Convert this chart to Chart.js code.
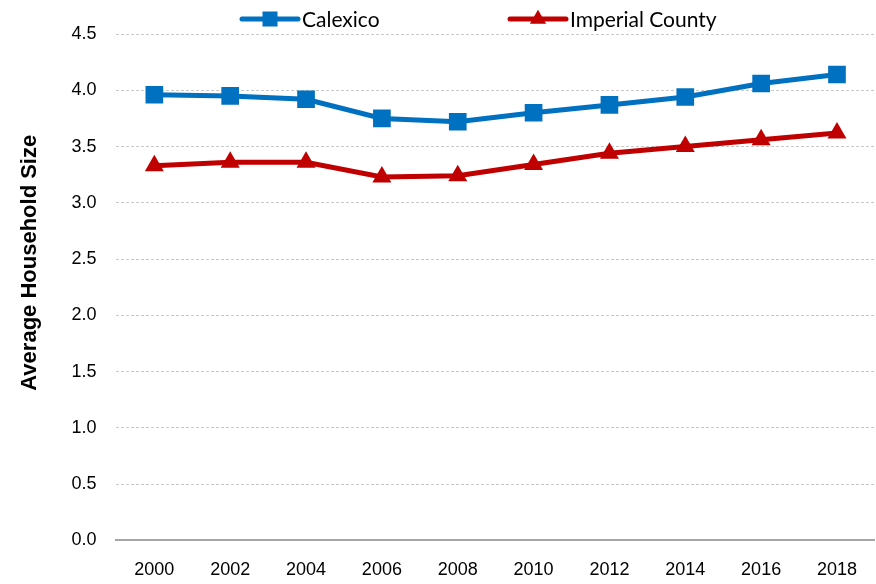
<!DOCTYPE html>
<html>
<head>
<meta charset="utf-8">
<script src="https://cdn.jsdelivr.net/npm/chart.js@4.4.1/dist/chart.umd.min.js"></script>
<style>
  html, body { margin: 0; padding: 0; background: #fff; overflow: hidden; }
  #wrap { width: 876px; height: 584px; position: relative; }
  canvas { display: block; }
</style>
</head>
<body>
<div id="wrap"><canvas id="myChart"></canvas></div>
<script>
var years = ['2000', '2002', '2004', '2006', '2008', '2010', '2012', '2014', '2016', '2018'];
var calexico = [3.96, 3.95, 3.92, 3.75, 3.72, 3.80, 3.87, 3.94, 4.06, 4.14];
var imperial = [3.33, 3.36, 3.36, 3.23, 3.24, 3.34, 3.44, 3.50, 3.56, 3.62];
var seriesNames = ['Calexico', 'Imperial County'];

var blue = '#0070C0';
var red = '#C00000';
var tickFont = { family: "'Liberation Sans', Arial, sans-serif", size: 18 };

// legend drawn by hand: line with the marker on it, like the original
var lineLegend = {
	id: 'lineLegend',
	afterDraw: function(chart){
		var ctx = chart.ctx;
		var starts = [242, 510];
		chart.data.datasets.forEach(function(ds, i){
			var x = starts[i], y = 19, len = 56;
			ctx.save();
			ctx.strokeStyle = ds.borderColor;
			ctx.lineWidth = 5;
			ctx.lineCap = 'round';
			ctx.beginPath();
			ctx.moveTo(x, y);
			ctx.lineTo(x + len, y);
			ctx.stroke();
			ctx.fillStyle = ds.borderColor;
			Chart.helpers.drawPoint(ctx, { pointStyle: ds.pointStyle, radius: ds.pointRadius * 0.85, borderWidth: 0 }, x + len / 2, y);
			ctx.fillStyle = '#000';
			ctx.font = "21px Lato, 'Open Sans', sans-serif";
			ctx.textBaseline = 'middle';
			ctx.fillText(ds.label, x + len + 4, y + 1);
			ctx.restore();
		});
	}
};

var chartData = {
	labels: years,
	datasets: [
		{
			label: seriesNames[0],
			data: calexico,
			borderColor: blue,
			backgroundColor: blue,
			borderWidth: 5,
			pointStyle: 'rect',
			pointRadius: 12.5,
			pointHoverRadius: 12.5,
			pointBorderWidth: 0,
			tension: 0
		},
		{
			label: seriesNames[1],
			data: imperial,
			borderColor: red,
			backgroundColor: red,
			borderWidth: 5,
			pointStyle: 'triangle',
			pointRadius: 11,
			pointHoverRadius: 11,
			pointBorderWidth: 0,
			tension: 0
		}
	]
};

var chartOptions = {
	responsive: true,
	maintainAspectRatio: false,
	animation: false,
	layout: { autoPadding: false, padding: { top: 34, right: 0, left: 17, bottom: -16 } },
	plugins: {
		legend: { display: false },
		tooltip: { enabled: false }
	},
	scales: {
		x: {
			offset: true,
			grid: { display: false, drawTicks: false },
			border: { display: true, color: '#a6a6a6', width: 2 },
			ticks: { color: '#000', font: tickFont, padding: 19, maxRotation: 0, autoSkip: false }
		},
		y: {
			min: 0,
			max: 4.5,
			ticks: {
				stepSize: 0.5,
				color: '#000',
				font: tickFont,
				padding: 20,
				callback: function(v){ return v.toFixed(1); }
			},
			grid: {
				color: function(c){ return c.tick && c.tick.value === 0 ? 'rgba(0,0,0,0)' : '#c8c8c8'; },
				drawTicks: false,
				lineWidth: 1
			},
			border: { display: false, dash: [3, 2] },
			title: {
				display: true,
				// leading spaces lift the title a little above centre, like the original
				text: '        Average Household Size',
				color: '#000',
				font: { family: "'Liberation Sans', Arial, sans-serif", size: 22, weight: 'bold' },
				padding: { top: 0, bottom: 8 }
			}
		}
	}
};

var ctx = document.getElementById('myChart').getContext('2d');
var myChart = new Chart(ctx, {
	type: 'line',
	data: chartData,
	options: chartOptions,
	plugins: [lineLegend]
});
</script>
</body>
</html>
